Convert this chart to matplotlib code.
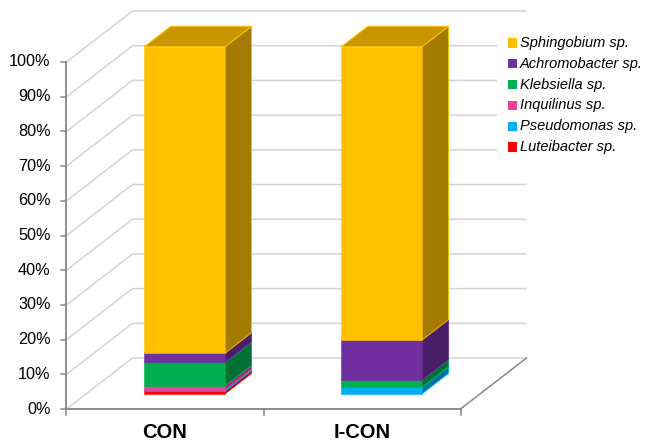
import matplotlib
matplotlib.use("Agg")
import matplotlib.pyplot as plt
from matplotlib.patches import Polygon, Rectangle
import numpy as np

plt.rcParams["font.family"] = ["Liberation Sans", "DejaVu Sans"]

# ---- data -------------------------------------------------------------
categories = ["CON", "I-CON"]
species = ["Luteibacter sp.", "Pseudomonas sp.", "Inquilinus sp.",
           "Klebsiella sp.", "Achromobacter sp.", "Sphingobium sp."]
luteibacter = [0.7, 0.0]
pseudomonas = [0.5, 1.9]
inquilinus = [1.1, 0.0]
klebsiella = [6.7, 2.0]
achromobacter = [2.7, 11.6]
sphingobium = [88.3, 84.5]
series = [luteibacter, pseudomonas, inquilinus, klebsiella, achromobacter, sphingobium]
colors = ["#FF0000", "#00B0F0", "#F0409A", "#00B050", "#7030A0", "#FFC000"]
pct_ticks = list(range(0, 101, 10))
pct_labels = [f"{t}%" for t in pct_ticks]

# ---- layout (pixel geometry of the oblique 3-D frame) -----------------
W, H = 646, 446
CAT_PX = 197.0      # pixels per category
CAT0_PX = 165.0     # x pixel of first category centre (front plane)
PCT_PX = 3.47       # pixels per percent
ZERO_PY = 409.0     # y pixel (from top) of 0 % on the front plane
DEPTH_X = 66.0 / CAT_PX   # depth offset, in category units
DEPTH_Y = 51.0 / PCT_PX   # depth offset, in percent units
BAR_W = 0.41
Z0, Z1 = 0.30, 0.70       # bar depth span (0 = front, 1 = back wall)


def px_w(p):
    return p / CAT_PX


def px_h(p):
    return p / PCT_PX


def from_px(x, y):
    return (x - CAT0_PX) / CAT_PX, (ZERO_PY - y) / PCT_PX


def proj(x, y, z):
    return (x + z * DEPTH_X, y + z * DEPTH_Y)


def shade(c, f):
    rgb = np.array(matplotlib.colors.to_rgb(c))
    return tuple(rgb * f)


fig = plt.figure(figsize=(W / 100, H / 100), dpi=100)
ax = fig.add_axes([0, 0, 1, 1])
x_lo, y_lo = from_px(0, H)
x_hi, y_hi = from_px(W, 0)
ax.set_xlim(x_lo, x_hi)
ax.set_ylim(y_lo, y_hi)
ax.axis("off")

left, right = -0.5, len(categories) - 0.5
grid_c = "#D4D4D4"
axis_c = "#868686"

# side wall + back wall gridlines
for t in pct_ticks:
    p0 = proj(left, t, 0)
    p1 = proj(left, t, 1)
    p2 = proj(right, t, 1)
    ax.plot([p0[0], p1[0], p2[0]], [p0[1], p1[1], p2[1]],
            color=grid_c, lw=1.1, zorder=1, solid_capstyle="butt")

# floor edges
f0 = proj(right, 0, 0)
f1 = proj(right, 0, 1)
ax.plot([f0[0], f1[0]], [f0[1], f1[1]], color=axis_c, lw=1.1, zorder=2)
ax.plot([left, right], [0, 0], color=axis_c, lw=1.3, zorder=2)
# vertical value axis
ax.plot([left, left], [0, 100], color=axis_c, lw=1.3, zorder=2)
for t, lab in zip(pct_ticks, pct_labels):
    ax.plot([left - px_w(5), left], [t, t], color=axis_c, lw=1.1, zorder=2)
    ax.text(left - px_w(16), t, lab, ha="right", va="center",
            fontsize=11.7, color="#000000")
# category tick marks
for k in range(len(categories) + 1):
    xk = left + k
    ax.plot([xk, xk], [0, -px_h(6)], color=axis_c, lw=1.1, zorder=2)
for i, cat in enumerate(categories):
    ax.text(i, px_h(-24), cat, ha="center", va="center",
            fontsize=14.5, fontweight="bold")

# stacked 3-D columns
for i in range(len(categories)):
    bottom = 0.0
    x0, x1 = i - BAR_W / 2, i + BAR_W / 2
    for vals, c in zip(series, colors):
        v = vals[i]
        if v <= 0:
            continue
        b, t = bottom, bottom + v
        front = [proj(x0, b, Z0), proj(x1, b, Z0), proj(x1, t, Z0), proj(x0, t, Z0)]
        side = [proj(x1, b, Z0), proj(x1, b, Z1), proj(x1, t, Z1), proj(x1, t, Z0)]
        top = [proj(x0, t, Z0), proj(x1, t, Z0), proj(x1, t, Z1), proj(x0, t, Z1)]
        ax.add_patch(Polygon(front, closed=True, facecolor=c, edgecolor=c,
                             lw=0.4, zorder=3))
        ax.add_patch(Polygon(side, closed=True, facecolor=shade(c, 0.64),
                             edgecolor=c, lw=0.6, zorder=3))
        ax.add_patch(Polygon(top, closed=True, facecolor=shade(c, 0.78),
                             edgecolor=c, lw=0.8, zorder=3))
        bottom = t

# legend (top entry = top of the stack)
lx, ly = from_px(497, 30)
lx2, ly2 = from_px(646, 160)
ax.add_patch(Rectangle((lx, ly2), lx2 - lx, ly - ly2, facecolor="white",
                       edgecolor="none", zorder=4))
for k, (name, c) in enumerate(zip(species[::-1], colors[::-1])):
    cy = 43 + 20.8 * k
    sx, sy = from_px(508, cy + 4.5)
    ax.add_patch(Rectangle((sx, sy), px_w(9), px_h(9), facecolor=c,
                           edgecolor="none", zorder=5))
    tx, ty = from_px(520, cy)
    ax.text(tx, ty, name, ha="left", va="center", fontsize=10.5,
            fontstyle="italic", zorder=5)

fig.savefig("out.png", dpi=100)
